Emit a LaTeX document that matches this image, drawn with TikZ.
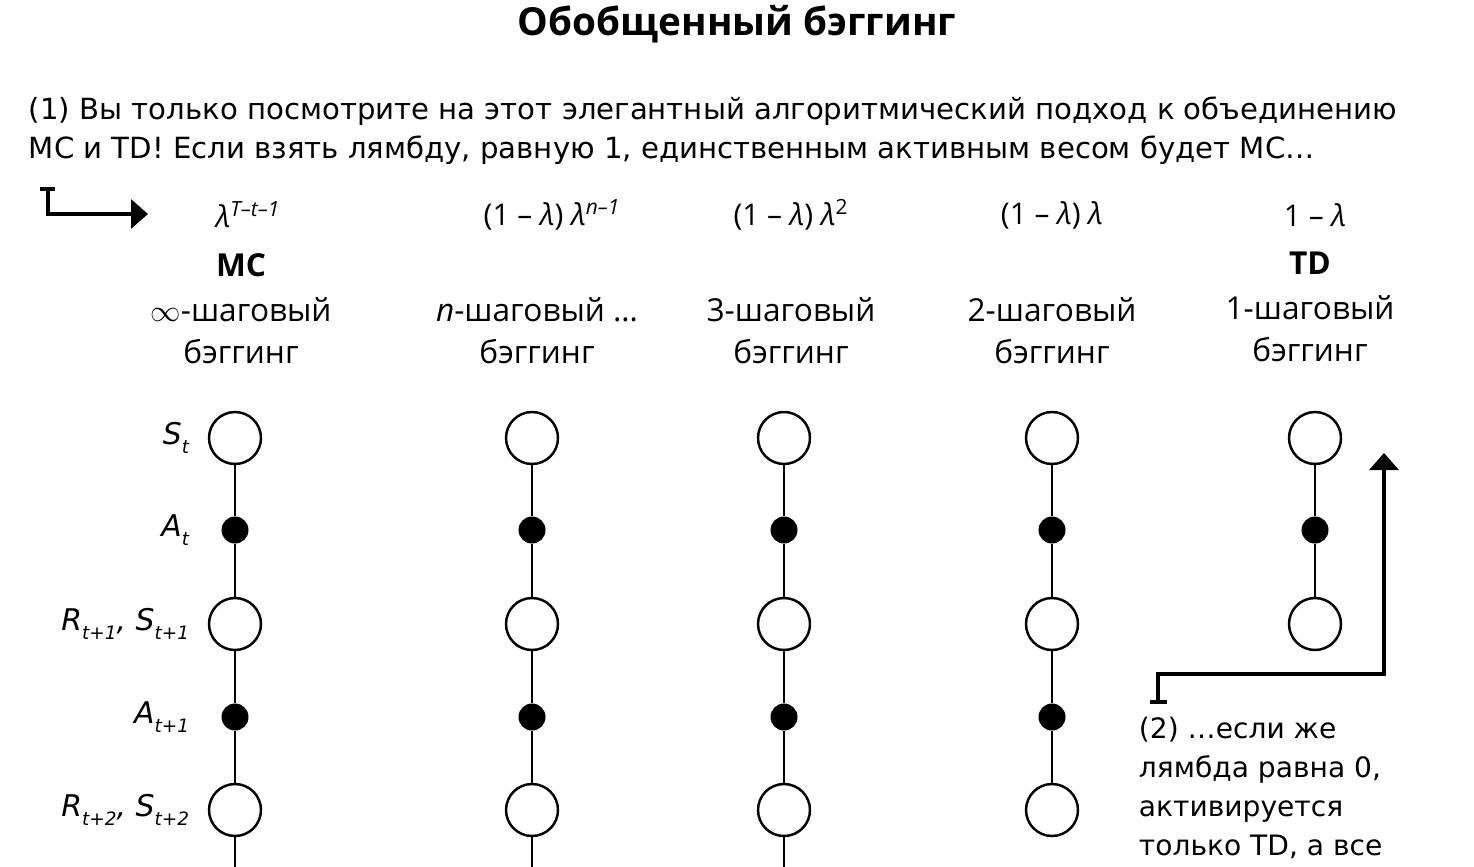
\documentclass[tikz,border=0pt]{standalone}
\usepackage{fontspec}
\setmainfont{Open Sans}
\newfontfamily\notefont{DejaVu Sans}
\usetikzlibrary{arrows.meta}
\newcommand{\lowidx}[1]{\raisebox{-0.55ex}{\fontsize{10.5}{11}\selectfont #1}}

\begin{document}
\begin{tikzpicture}[x=0.02cm, y=-0.02cm, line width=1.1pt]
    \tikzstyle{state}=[circle, draw, fill=white, line width=1.4pt, minimum size=1.04cm, inner sep=0pt]
    \tikzstyle{action}=[circle, fill=black, minimum size=0.54cm, inner sep=0pt]
    \tikzstyle{weight}=[font=\fontsize{17}{20}\selectfont]
    \tikzstyle{algo}=[font=\bfseries\fontsize{18}{22}\selectfont]
    \tikzstyle{steps}=[align=center, font=\fontsize{18}{24}\selectfont]
    \tikzstyle{rowlabel}=[anchor=east, inner sep=0pt, font=\notefont\itshape\fontsize{17}{20}\selectfont]
    \tikzstyle{note}=[anchor=north west, align=left, inner sep=0pt]
    \tikzstyle{callout}=[line width=2pt, -{Triangle[length=0.34cm, width=0.58cm]}]

    \useasboundingbox (0,0) rectangle (1474,866);

    % Title and first note
    \node[font=\bfseries\fontsize{22}{26}\selectfont] (title) at (737,24) {Обобщенный бэггинг};
    \node[note, font=\notefont\fontsize{16.6}{22.2}\selectfont] (note1) at (28,96) {(1) Вы только посмотрите на этот элегантный алгоритмический подход к объединению\\MC и TD! Если взять лямбду, равную 1, единственным активным весом будет MC…};

    % Draw the weights and names of the columns
    \node[weight] (w-M) at (248,215) {{\itshape λ}\textsuperscript{\itshape T–t–1}};
    \node[weight] (w-N) at (552,215) {(1 – {\itshape λ}) {\itshape λ}\textsuperscript{\itshape n–1}};
    \node[weight] (w-C) at (791,215) {(1 – {\itshape λ}) {\itshape λ}\textsuperscript{2}};
    \node[weight] (w-B) at (1052,215) {(1 – {\itshape λ}) {\itshape λ}};
    \node[weight] (w-A) at (1315,215) {1 – {\itshape λ}};

    \node[algo] (h-M) at (241,265) {MC};
    \node[algo] (h-A) at (1310,263) {TD};

    \node[steps] (s-M) at (241,331) {$\infty$-шаговый\\бэггинг};
    \node[steps] (s-N) at (537,331) {{\itshape n}-шаговый …\\бэггинг};
    \node[steps] (s-C) at (791,331) {3-шаговый\\бэггинг};
    \node[steps] (s-B) at (1052,331) {2-шаговый\\бэггинг};
    \node[steps] (s-A) at (1310,329) {1-шаговый\\бэггинг};

    % Draw the state and action nodes
    \foreach \col/\x in {M/235, N/532, C/784, B/1052} {
      \node[state]  (\col-1) at (\x,438) {};
      \node[action] (\col-2) at (\x,530) {};
      \node[state]  (\col-3) at (\x,624) {};
      \node[action] (\col-4) at (\x,717) {};
      \node[state]  (\col-5) at (\x,810) {};
    }
    \node[state]  (A-1) at (1315,438) {};
    \node[action] (A-2) at (1315,530) {};
    \node[state]  (A-3) at (1315,624) {};

    % Connect the nodes of every column
    \foreach \col in {M, N, C, B}
      \foreach \a/\b in {1/2, 2/3, 3/4, 4/5}
        \draw (\col-\a) -- (\col-\b);
    \draw (A-1) -- (A-2);
    \draw (A-2) -- (A-3);

    % Long columns run on below the picture
    \foreach \col/\x in {M/235, N/532, C/784} {
      \coordinate (\col-end) at (\x,880);
      \draw (\col-5) -- (\col-end);
    }

    % Annotate the rows
    \node[rowlabel] (r-1) at (190,438) {S\lowidx{t}};
    \node[rowlabel] (r-2) at (190,530) {A\lowidx{t}};
    \node[rowlabel] (r-3) at (190,624) {R\lowidx{t+1}, S\lowidx{t+1}};
    \node[rowlabel] (r-4) at (190,717) {A\lowidx{t+1}};
    \node[rowlabel] (r-5) at (190,810) {R\lowidx{t+2}, S\lowidx{t+2}};

    % Callout arrows
    \coordinate (c1-bar-l) at (40,189);
    \coordinate (c1-bar-r) at (55,189);
    \coordinate (c1-start) at (48,189);
    \coordinate (c1-tip) at (148,214);
    \draw[line width=2pt] (c1-bar-l) -- (c1-bar-r);
    \draw[callout] (c1-start) |- (c1-tip);

    \node[note, font=\notefont\fontsize{16}{22.3}\selectfont] (note2) at (1138,716) {(2) …если же\\лямбда равна 0,\\активируется\\только TD, а все};
    \coordinate (c2-bar-l) at (1150,702);
    \coordinate (c2-bar-r) at (1167,702);
    \coordinate (c2-start) at (1158,702);
    \coordinate (c2-turn) at (1384,674);
    \coordinate (c2-tip) at (1384,453);
    \draw[line width=2pt] (c2-bar-l) -- (c2-bar-r);
    \draw[callout] (c2-start) |- (c2-turn) -- (c2-tip);
\end{tikzpicture}
\end{document}
